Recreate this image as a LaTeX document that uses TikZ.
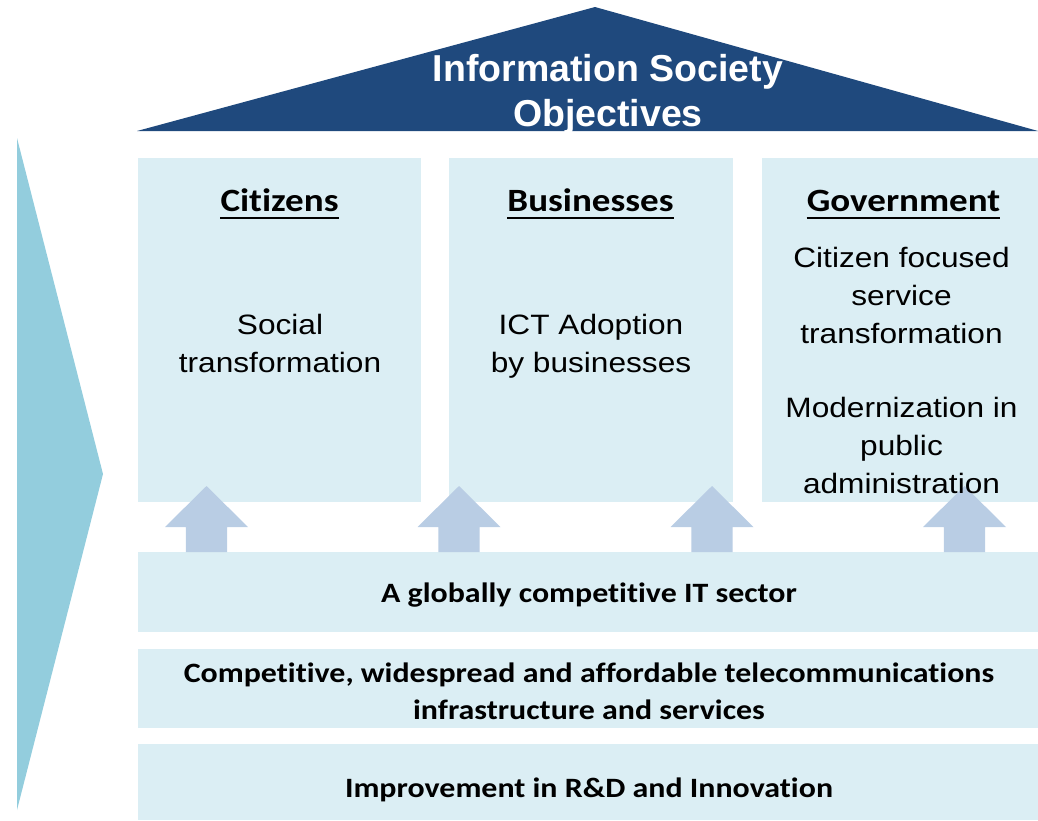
\documentclass[tikz,border=0pt]{standalone}
\usepackage{fontspec}
\newfontfamily\arialR[FakeStretch=1.13]{Liberation Sans}
\newfontfamily\arialT{Liberation Sans}
\newfontfamily\calB[FakeStretch=1.14,Ligatures=NoCommon]{Carlito}
\definecolor{roofblue}{HTML}{1F497D}
\definecolor{chevblue}{HTML}{93CDDD}
\definecolor{boxblue}{HTML}{DBEEF4}
\definecolor{arrblue}{HTML}{B9CDE4}
\tikzset{
  boxfill/.style={fill=boxblue},
  uparrow/.style={fill=arrblue},
  titletext/.style={text=white, font=\arialT\bfseries\fontsize{37.5}{45}\selectfont, align=center, inner sep=0pt, anchor=base},
  headtext/.style={font=\calB\bfseries\fontsize{32.5}{39}\selectfont, inner sep=0pt, anchor=base},
  bodytext/.style={font=\arialR\fontsize{28}{38}\selectfont, align=center, inner sep=0pt, anchor=base},
  bartext/.style={font=\calB\bfseries\fontsize{28}{37}\selectfont, align=center, inner sep=0pt, anchor=base},
  uline/.style={line width=1.8pt}
}
\begin{document}
\begin{tikzpicture}[x=1pt,y=-1pt]
\useasboundingbox (0,0) rectangle (1038,820);
% roof and side chevron
\fill[roofblue] (137,131) -- (595,7) -- (1038,131) -- cycle;
\fill[chevblue] (17,138) -- (103,474) -- (17,810) -- cycle;
% columns
\fill[boxfill] (138,158) rectangle (421,502);
\fill[boxfill] (449,158) rectangle (733,502);
\fill[boxfill] (762,158) rectangle (1038,502);
% bars
\fill[boxfill] (138,552) rectangle (1038,632);
\fill[boxfill] (138,649) rectangle (1038,728);
\fill[boxfill] (138,744) rectangle (1038,820);
% up arrows
\foreach \cx in {206.5,459,712,964.5}{
  \fill[uparrow] (\cx,486) -- (\cx+41.5,527) -- (\cx+20.7,527) -- (\cx+20.7,552)
     -- (\cx-20.7,552) -- (\cx-20.7,527) -- (\cx-41.5,527) -- cycle;
}
% title (base = last line)
\node[titletext] (title) at (608,126.7) {Information Society\\Objectives};
% headings
\node[headtext] (hcit) at (279.5,211.7) {Citizens};
\node[headtext] (hbus) at (590.5,211.7) {Businesses};
\node[headtext] (hgov) at (903.5,211.7) {Government};
\foreach \h in {hcit,hbus,hgov}{
  \draw[uline] ([yshift=-6.5pt]\h.base west) -- ([yshift=-6.5pt]\h.base east);
}
% column bodies (base = last line)
\node[bodytext] (bcit) at (280,372.7) {Social\\transformation};
\node[bodytext] (bbus) at (591,372.7) {ICT Adoption\\by businesses};
\node[bodytext] (bgov1) at (901.5,343.3) {Citizen focused\\service\\transformation};
\node[bodytext] (bgov2) at (901.5,493) {Modernization in\\public\\administration};
% bars
\node[bartext] (bar1) at (589,602) {A globally competitive IT sector};
\node[bartext] (bar2) at (589,719) {Competitive, widespread and affordable telecommunications\\infrastructure and services};
\node[bartext] (bar3) at (589,797) {Improvement in R\&D and Innovation};
\end{tikzpicture}
\end{document}
